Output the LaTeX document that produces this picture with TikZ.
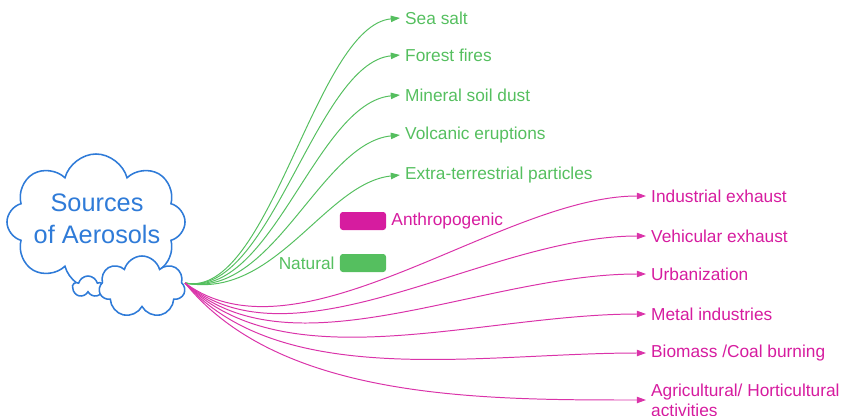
\documentclass[tikz,border=0pt]{standalone}
\usepackage{fontspec}
\setmainfont{Liberation Sans}
\usetikzlibrary{positioning,arrows.meta,shapes.symbols}

\definecolor{natgreen}{HTML}{55BF5F}
\definecolor{anthmag}{HTML}{D61C9F}
\definecolor{cloudblue}{HTML}{2F7BD8}

\begin{document}
\begin{tikzpicture}[x=0.025cm, y=-0.025cm,
  puff/.style={cloud, draw=cloudblue, fill=white, line width=1.1pt, inner sep=0pt},
  natlab/.style={anchor=west, text=natgreen, font={\fontsize{12.3}{14}\selectfont}, inner xsep=3.5pt, inner ysep=2pt},
  anthlab/.style={anchor=west, text=anthmag, font={\fontsize{12.3}{14}\selectfont}, inner xsep=3.5pt, inner ysep=2pt, align=left},
  natedge/.style={draw=natgreen, line width=0.7pt, -{Triangle[length=2.3mm,width=1.6mm]}},
  anthedge/.style={draw=anthmag!90, line width=0.7pt, -{Triangle[length=2.3mm,width=1.6mm]}},
  legbox/.style={rounded corners=2pt, minimum width=1.15cm, minimum height=0.45cm, inner sep=0pt}
]
\useasboundingbox (0,0) rectangle (842,415);

% clouds
\node[puff, cloud puffs=8, minimum width=4.45cm, minimum height=3.4cm] (src) at (96,222) {};
\node[puff, cloud puffs=5, minimum width=0.75cm, minimum height=0.55cm] (tiny) at (88,287) {};
\node[puff, cloud puffs=7, minimum width=2.15cm, minimum height=1.55cm] (low) at (142,287) {};
\node[text=cloudblue, align=center, font={\fontsize{18}{22.5}\selectfont}] (srctext) at (97,219) {Sources\\of Aerosols};
\coordinate (hub) at (185,283);

% natural sources
\node[natlab] (seasalt) at (400,18) {Sea salt};
\node[natlab] (forest) at (400,55) {Forest fires};
\node[natlab] (mineral) at (400,95) {Mineral soil dust};
\node[natlab] (volcanic) at (400,135) {Volcanic eruptions};
\node[natlab] (extra) at (400,175) {Extra-terrestrial particles};

% anthropogenic sources
\node[anthlab] (industrial) at (646,196) {Industrial exhaust};
\node[anthlab] (vehicular) at (646,236) {Vehicular exhaust};
\node[anthlab] (urban) at (646,274) {Urbanization};
\node[anthlab] (metal) at (646,314) {Metal industries};
\node[anthlab] (biomass) at (646,353) {Biomass /Coal burning};
\node[anthlab] (agri) at (646,400) {Agricultural/ Horticultural\\activities};

% legend
\node[legbox, fill=anthmag] (anthbox) at (363,221) {};
\node[anthlab, right=0pt of anthbox] (anthname) {Anthropogenic};
\node[legbox, fill=natgreen] (natbox) at (363,263) {};
\node[natlab, left=0pt of natbox] (natname) {Natural};

% connectors
\draw[natedge] (hub) .. controls +(85,17) and +(-85,8) .. (seasalt.west);
\draw[natedge] (hub) .. controls +(85,17) and +(-85,8) .. (forest.west);
\draw[natedge] (hub) .. controls +(87,17) and +(-85,8) .. (mineral.west);
\draw[natedge] (hub) .. controls +(88,17) and +(-80,8) .. (volcanic.west);
\draw[natedge] (hub) .. controls +(90,17) and +(-75,8) .. (extra.west);

\draw[anthedge] (hub) .. controls +(115,85) and +(-145,0) .. (industrial.west);
\draw[anthedge] (hub) .. controls +(110,90) and +(-160,0) .. (vehicular.west);
\draw[anthedge] (hub) .. controls +(105,95) and +(-165,0) .. (urban.west);
\draw[anthedge] (hub) .. controls +(100,100) and +(-165,0) .. (metal.west);
\draw[anthedge] (hub) .. controls +(97,108) and +(-165,0) .. (biomass.west);
\draw[anthedge] (hub) .. controls +(95,117) and +(-165,0) .. (agri.west);
\end{tikzpicture}
\end{document}
